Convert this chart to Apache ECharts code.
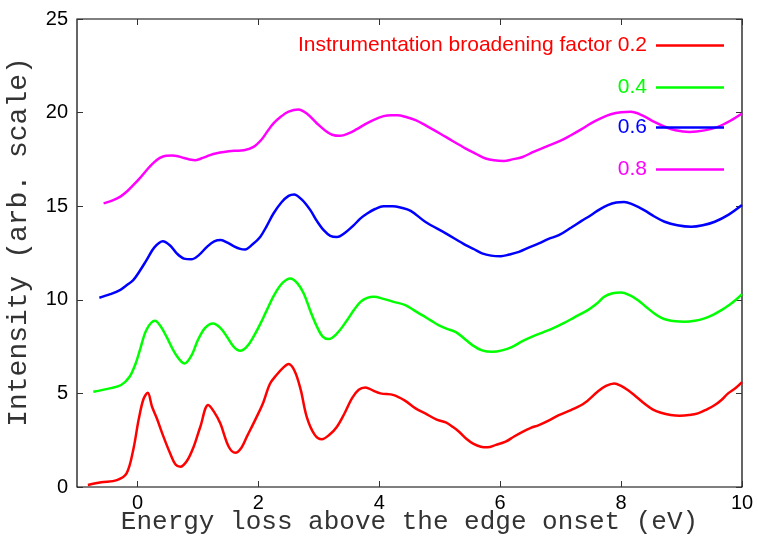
<!DOCTYPE html>
<html>
<head>
<meta charset="utf-8">
<script src="https://cdn.jsdelivr.net/npm/echarts@6/dist/echarts.min.js"></script>
<style>html,body{margin:0;padding:0;background:#fff}#c{width:758px;height:538px}</style>
</head>
<body>
<div id="c"></div>
<script>
var seriesNames = ['Instrumentation broadening factor 0.2', '0.4', '0.6', '0.8'];
var seriesColors = ['#ff0000', '#00ff00', '#0000ff', '#ff00ff'];
var xTicks = [0, 2, 4, 6, 8, 10];
var yTicks = [0, 5, 10, 15, 20, 25];
var xTitle = 'Energy loss above the edge onset (eV)';
var yTitle = 'Intensity (arb. scale)';

var red = [[-0.82,0.11],[-0.6,0.25],[-0.34,0.37],[-0.18,0.73],[-0.07,1.98],[0.02,3.6],[0.10,4.7],[0.17,5.03],[0.24,4.3],[0.32,3.67],[0.43,2.69],[0.54,1.8],[0.63,1.2],[0.71,1.08],[0.82,1.4],[0.93,2.15],[1.04,3.22],[1.17,4.38],[1.27,4.0],[1.37,3.4],[1.51,2.15],[1.62,1.83],[1.72,2.1],[1.81,2.69],[1.95,3.6],[2.08,4.5],[2.19,5.5],[2.3,5.98],[2.42,6.4],[2.5,6.57],[2.6,6.2],[2.7,5.2],[2.8,3.75],[2.93,2.8],[3.05,2.55],[3.18,2.8],[3.3,3.22],[3.42,3.9],[3.55,4.75],[3.66,5.2],[3.77,5.32],[3.9,5.15],[4.02,5.0],[4.24,4.91],[4.43,4.6],[4.6,4.2],[4.76,3.93],[4.95,3.6],[5.10,3.45],[5.22,3.2],[5.32,2.95],[5.45,2.55],[5.56,2.3],[5.68,2.15],[5.79,2.12],[5.93,2.25],[6.09,2.42],[6.23,2.7],[6.37,2.95],[6.5,3.15],[6.64,3.31],[6.8,3.55],[6.97,3.84],[7.17,4.11],[7.39,4.47],[7.61,5.09],[7.75,5.4],[7.89,5.53],[8.0,5.4],[8.11,5.18],[8.24,4.85],[8.38,4.47],[8.52,4.15],[8.66,3.97],[8.82,3.85],[8.97,3.81],[9.12,3.84],[9.27,3.93],[9.42,4.15],[9.55,4.38],[9.66,4.65],[9.77,5.0],[9.9,5.3],[10.0,5.6]];

var green = [[-0.73,5.09],[-0.46,5.27],[-0.27,5.45],[-0.13,5.89],[-0.03,6.6],[0.04,7.31],[0.15,8.4],[0.29,8.88],[0.38,8.6],[0.48,8.03],[0.63,7.1],[0.78,6.6],[0.89,7.0],[1.0,7.85],[1.12,8.5],[1.25,8.73],[1.37,8.5],[1.48,8.03],[1.59,7.5],[1.70,7.28],[1.81,7.5],[1.92,8.03],[2.03,8.7],[2.14,9.45],[2.27,10.3],[2.4,10.9],[2.53,11.14],[2.64,10.9],[2.75,10.34],[2.86,9.4],[2.97,8.56],[3.06,8.05],[3.16,7.9],[3.3,8.2],[3.47,8.92],[3.58,9.45],[3.69,9.89],[3.8,10.1],[3.91,10.16],[4.07,10.05],[4.24,9.89],[4.43,9.72],[4.57,9.45],[4.71,9.18],[4.85,8.9],[4.98,8.65],[5.12,8.45],[5.26,8.29],[5.4,7.95],[5.54,7.58],[5.7,7.3],[5.87,7.22],[6.03,7.3],[6.2,7.49],[6.36,7.78],[6.53,8.03],[6.7,8.25],[6.87,8.47],[7.05,8.75],[7.22,9.05],[7.45,9.45],[7.6,9.8],[7.72,10.16],[7.86,10.35],[8.0,10.39],[8.14,10.25],[8.28,9.98],[8.42,9.6],[8.55,9.27],[8.66,9.05],[8.77,8.92],[8.9,8.85],[9.05,8.83],[9.22,8.88],[9.38,9.01],[9.52,9.2],[9.66,9.45],[9.8,9.75],[9.9,10.0],[10.0,10.3]];

var blue = [[-0.63,10.11],[-0.45,10.3],[-0.29,10.52],[-0.17,10.8],[-0.07,11.05],[0.04,11.55],[0.15,12.12],[0.28,12.8],[0.42,13.13],[0.54,12.9],[0.65,12.48],[0.77,12.2],[0.89,12.16],[1.02,12.4],[1.15,12.83],[1.27,13.12],[1.38,13.19],[1.49,13.05],[1.59,12.87],[1.7,12.72],[1.78,12.69],[1.9,12.95],[2.03,13.36],[2.14,13.95],[2.25,14.61],[2.38,15.2],[2.5,15.55],[2.59,15.63],[2.72,15.35],[2.86,14.79],[2.97,14.2],[3.08,13.72],[3.19,13.42],[3.30,13.36],[3.44,13.6],[3.58,13.99],[3.69,14.35],[3.80,14.61],[3.93,14.85],[4.07,15.0],[4.22,15.0],[4.35,14.93],[4.52,14.75],[4.76,14.17],[5.10,13.55],[5.43,12.92],[5.57,12.7],[5.70,12.48],[5.85,12.36],[6.01,12.33],[6.15,12.42],[6.31,12.56],[6.48,12.8],[6.64,13.01],[6.8,13.25],[6.97,13.45],[7.17,13.85],[7.34,14.2],[7.50,14.52],[7.64,14.82],[7.78,15.06],[7.92,15.2],[8.05,15.23],[8.2,15.08],[8.38,14.79],[8.55,14.45],[8.72,14.17],[8.93,13.98],[9.16,13.90],[9.35,13.98],[9.55,14.17],[9.78,14.55],[10.0,15.06]];

var magenta = [[-0.56,15.15],[-0.42,15.3],[-0.29,15.5],[-0.17,15.8],[-0.07,16.12],[0.04,16.5],[0.15,16.92],[0.26,17.3],[0.37,17.58],[0.47,17.7],[0.57,17.71],[0.67,17.67],[0.76,17.58],[0.86,17.5],[0.96,17.46],[1.08,17.58],[1.20,17.73],[1.31,17.83],[1.43,17.9],[1.6,17.96],[1.76,17.99],[1.92,18.17],[2.05,18.55],[2.15,19.0],[2.25,19.42],[2.38,19.8],[2.5,20.05],[2.66,20.17],[2.8,19.95],[2.97,19.42],[3.12,19.0],[3.22,18.82],[3.35,18.76],[3.5,18.9],[3.62,19.1],[3.74,19.33],[3.9,19.6],[4.07,19.81],[4.2,19.86],[4.30,19.86],[4.43,19.78],[4.6,19.6],[4.76,19.33],[5.10,18.70],[5.43,18.08],[5.6,17.8],[5.76,17.55],[5.9,17.45],[6.06,17.42],[6.2,17.5],[6.37,17.63],[6.55,17.9],[6.75,18.17],[7.0,18.5],[7.17,18.79],[7.34,19.1],[7.5,19.42],[7.67,19.7],[7.83,19.91],[8.0,20.02],[8.16,20.04],[8.35,19.85],[8.55,19.50],[8.72,19.25],[8.9,19.06],[9.13,18.97],[9.38,19.05],[9.60,19.24],[9.8,19.55],[10.0,19.95]];

var allData = [red, green, blue, magenta];
var legendTops = [35, 77, 117, 159];

var chart = echarts.init(document.getElementById('c'), null, {renderer: 'canvas'});
var tickStyle = {show: true, inside: true, length: 6, lineStyle: {color: '#333', width: 1}};
var sans = 'Liberation Sans, Arial, sans-serif';
var mono = 'Liberation Mono, Courier New, monospace';
var noLine = {show: false, onZero: false};

var legends = seriesNames.map(function (n, i) {
  return {
    data: [{name: n, textStyle: {color: seriesColors[i]}}],
    right: 34, top: legendTops[i], orient: 'vertical', align: 'right',
    icon: 'rect', itemWidth: 68, itemHeight: 2.5, padding: 0,
    textStyle: {fontSize: 21, fontFamily: sans, padding: [0, 4, 0, 0]},
    selectedMode: false
  };
});

var option = {
  animation: false,
  backgroundColor: '#fff',
  grid: {left: 77, right: 16, top: 19, bottom: 51, outerBoundsMode: 'none', containLabel: false,
         show: true, borderColor: '#000', borderWidth: 1.2, backgroundColor: 'transparent'},
  legend: legends,
  xAxis: [{
    type: 'value', min: -1, max: 10, position: 'bottom',
    axisLine: noLine, splitLine: {show: false},
    axisTick: Object.assign({customValues: xTicks}, tickStyle),
    axisLabel: {customValues: xTicks, color: '#000', fontSize: 20, fontFamily: sans, margin: 6},
    name: xTitle, nameLocation: 'middle', nameGap: 22, nameMoveOverlap: false,
    nameTextStyle: {fontFamily: mono, fontSize: 26, color: '#333'}
  }, {
    type: 'value', min: -1, max: 10, position: 'top',
    axisLine: noLine, splitLine: {show: false},
    axisTick: Object.assign({customValues: xTicks}, tickStyle),
    axisLabel: {show: false, customValues: xTicks}
  }],
  yAxis: [{
    type: 'value', min: 0, max: 25, interval: 5, position: 'left',
    axisLine: noLine, splitLine: {show: false},
    axisTick: tickStyle,
    axisLabel: {color: '#000', fontSize: 20, fontFamily: sans, margin: 9},
    name: yTitle, nameLocation: 'middle', nameGap: 44, nameMoveOverlap: false,
    nameTextStyle: {fontFamily: mono, fontSize: 28, color: '#333', padding: [0, 0, 0, 22]}
  }, {
    type: 'value', min: 0, max: 25, interval: 5, position: 'right',
    axisLine: noLine, splitLine: {show: false},
    axisTick: tickStyle, axisLabel: {show: false}
  }],
  series: allData.map(function (d, i) {
    return {
      name: seriesNames[i], type: 'line', data: d, xAxisIndex: 0, yAxisIndex: 0,
      showSymbol: false, symbol: 'none', smooth: 0.35,
      lineStyle: {color: seriesColors[i], width: 2.5},
      itemStyle: {color: seriesColors[i]}
    };
  })
};
chart.setOption(option);
</script>
</body>
</html>
